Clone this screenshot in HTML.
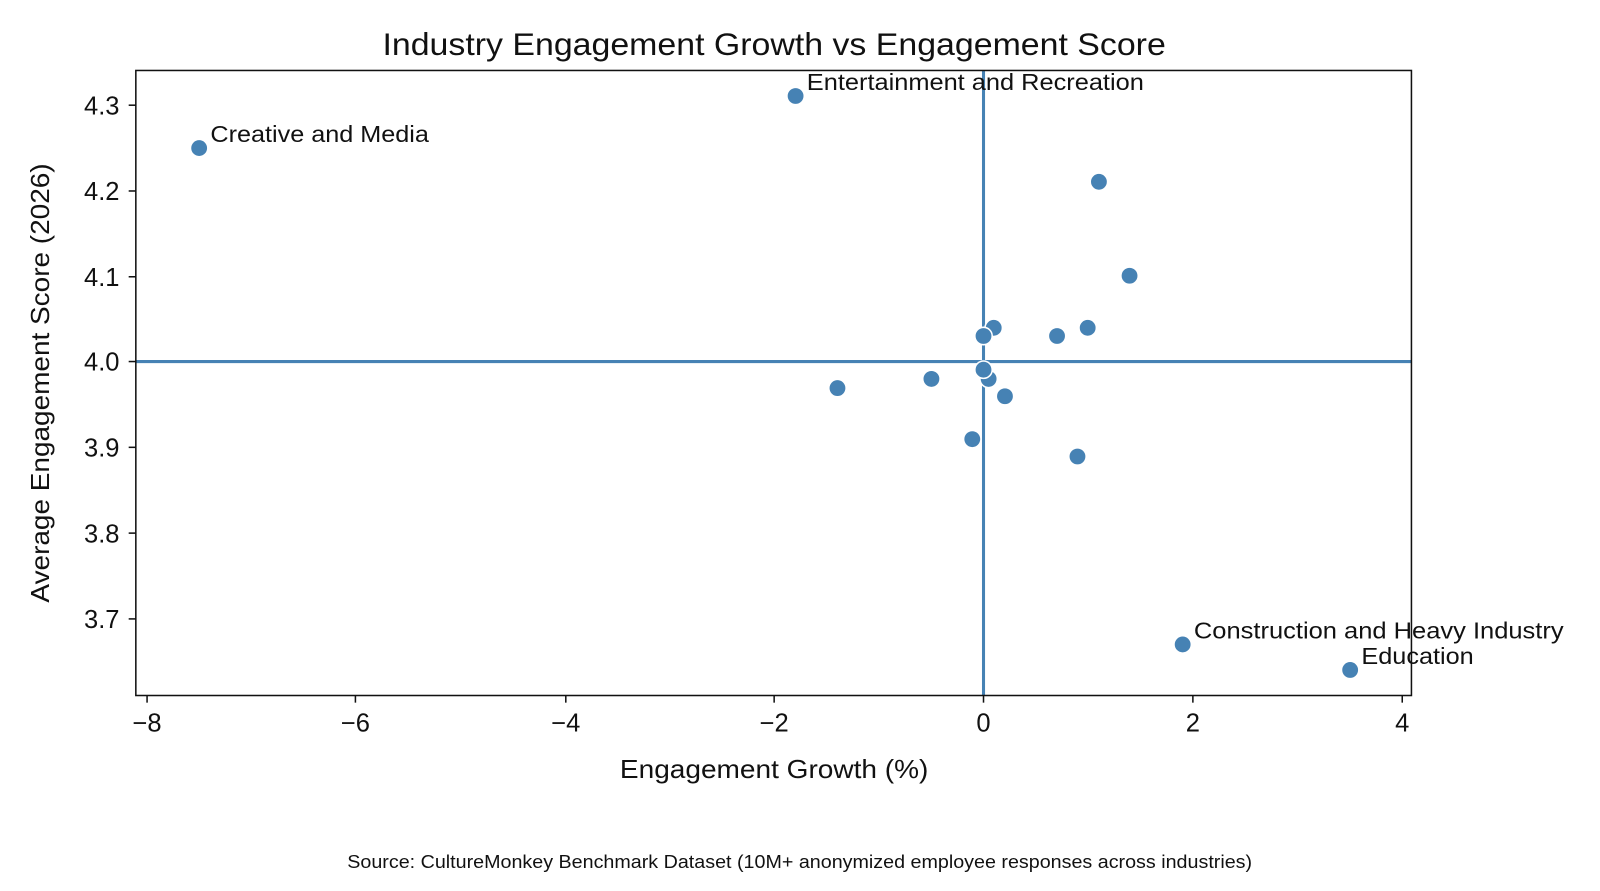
<!DOCTYPE html>
<html><head><meta charset="utf-8"><style>
html,body{margin:0;padding:0;background:#fff;}
svg text{font-family:"Liberation Sans",sans-serif;fill:#111;}
</style></head><body>
<svg width="1600" height="886" viewBox="0 0 1600 886" xmlns="http://www.w3.org/2000/svg">
<rect width="1600" height="886" fill="#fff"/>
<g transform="scale(1.0213)">
<text x="758" y="54" font-size="31" text-anchor="middle" textLength="767" lengthAdjust="spacingAndGlyphs">Industry Engagement Growth vs Engagement Score</text>
<g stroke="#4682b4" stroke-width="3">
<line x1="963" y1="69" x2="963" y2="681"/>
<line x1="133" y1="354" x2="1382" y2="354"/>
</g>
<g fill="#4682b4" stroke="#fff" stroke-width="1.5">
<circle cx="195" cy="145" r="8.5"/><circle cx="779" cy="94" r="8.5"/><circle cx="1076" cy="178" r="8.5"/>
<circle cx="1106" cy="270" r="8.5"/><circle cx="973" cy="321" r="8.5"/><circle cx="963" cy="329" r="8.5"/>
<circle cx="1035" cy="329" r="8.5"/><circle cx="1065" cy="321" r="8.5"/><circle cx="968" cy="371" r="8.5"/>
<circle cx="963" cy="362" r="8.5"/><circle cx="984" cy="388" r="8.5"/><circle cx="912" cy="371" r="8.5"/>
<circle cx="820" cy="380" r="8.5"/><circle cx="952" cy="430" r="8.5"/><circle cx="1055" cy="447" r="8.5"/>
<circle cx="1158" cy="631" r="8.5"/><circle cx="1322" cy="656" r="8.5"/>
</g>
<g font-size="23">
<text x="206" y="139" textLength="214" lengthAdjust="spacingAndGlyphs">Creative and Media</text>
<text x="790" y="88" textLength="330" lengthAdjust="spacingAndGlyphs">Entertainment and Recreation</text>
<text x="1169" y="625" textLength="362" lengthAdjust="spacingAndGlyphs">Construction and Heavy Industry</text>
<text x="1333" y="650" textLength="110" lengthAdjust="spacingAndGlyphs">Education</text>
</g>
<rect x="133" y="69" width="1249" height="612" fill="none" stroke="#111" stroke-width="1.5"/>
<g stroke="#111" stroke-width="1.5">
<line x1="144" y1="681" x2="144" y2="688"/><line x1="348" y1="681" x2="348" y2="688"/>
<line x1="554" y1="681" x2="554" y2="688"/><line x1="758" y1="681" x2="758" y2="688"/>
<line x1="963" y1="681" x2="963" y2="688"/><line x1="1168" y1="681" x2="1168" y2="688"/>
<line x1="1373" y1="681" x2="1373" y2="688"/>
<line x1="126" y1="103" x2="133" y2="103"/><line x1="126" y1="187" x2="133" y2="187"/>
<line x1="126" y1="271" x2="133" y2="271"/><line x1="126" y1="354" x2="133" y2="354"/>
<line x1="126" y1="438" x2="133" y2="438"/><line x1="126" y1="522" x2="133" y2="522"/>
<line x1="126" y1="606" x2="133" y2="606"/>
</g>
<g font-size="25" text-anchor="middle">
<text x="144" y="716">−8</text><text x="348" y="716">−6</text><text x="554" y="716">−4</text>
<text x="758" y="716">−2</text><text x="963" y="716">0</text><text x="1168" y="716">2</text><text x="1373" y="716">4</text>
</g>
<g font-size="25" text-anchor="end">
<text x="117" y="112">4.3</text><text x="117" y="196">4.2</text><text x="117" y="280">4.1</text>
<text x="117" y="363">4.0</text><text x="117" y="447">3.9</text><text x="117" y="531">3.8</text><text x="117" y="615">3.7</text>
</g>
<text x="758" y="762" font-size="25" text-anchor="middle" textLength="302" lengthAdjust="spacingAndGlyphs">Engagement Growth (%)</text>
<text transform="translate(48,375) rotate(-90)" font-size="25" text-anchor="middle" textLength="430" lengthAdjust="spacingAndGlyphs">Average Engagement Score (2026)</text>
<text x="783" y="850" font-size="18" text-anchor="middle" textLength="886" lengthAdjust="spacingAndGlyphs">Source: CultureMonkey Benchmark Dataset (10M+ anonymized employee responses across industries)</text>
</g>
</svg>
</body></html>
